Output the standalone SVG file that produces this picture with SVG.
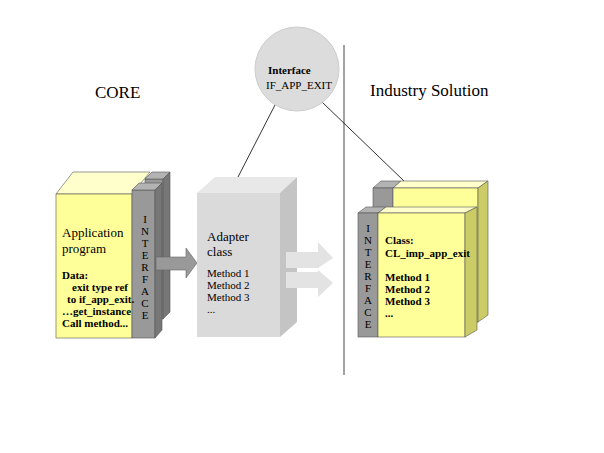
<svg xmlns="http://www.w3.org/2000/svg" width="604" height="453" viewBox="0 0 604 453" font-family="'Liberation Serif','Times New Roman',serif">
<style>
text{font-family:'Liberation Serif','Times New Roman',serif;fill:#000}
.b{font-weight:bold;font-size:11px}
.n{font-size:11px}
.h{font-size:13px}
.t{font-size:17px}
.y{fill:#ffff99;stroke:#555;stroke-width:0.6}
.yt{fill:#ffffcc;stroke:#555;stroke-width:0.6}
.ys{fill:#cccc66;stroke:#555;stroke-width:0.6}
.g{fill:#999;stroke:#555;stroke-width:0.6}
.gt{fill:#b3b3b3;stroke:#555;stroke-width:0.6}
.gs{fill:#777;stroke:#555;stroke-width:0.6}
.v{font-size:11px;text-anchor:middle}
</style>
<rect width="604" height="453" fill="#fff"/>
<g id="connectors" stroke="#000" stroke-width="0.8" fill="none">
<line x1="344" y1="45" x2="344" y2="375" stroke="#666" stroke-width="1.2"/>
<line x1="275" y1="105" x2="238" y2="177"/>
<line x1="322" y1="102" x2="432" y2="208"/>
</g>
<text class="t" x="95" y="98">CORE</text>
<text class="t" x="370" y="96">Industry Solution</text>
<g id="iface">
<circle cx="297" cy="69" r="42" fill="#dcdcdc" stroke="#ccc"/>
<text class="b" x="268" y="74">Interface</text>
<text class="n" x="266" y="89">IF_APP_EXIT</text>
</g>
<g id="app">
<rect class="g" x="145" y="179" width="18" height="140"/>
<polygon class="gt" points="145,179 152,172 170,172 163,179"/>
<polygon class="gs" points="163,179 170,172 170,312 163,319"/>
<polygon class="yt" points="56,194 73,172 150,172 132,194"/>
<rect class="y" x="56" y="194" width="76" height="144"/>
<rect class="g" x="132" y="190" width="23" height="148"/>
<polygon class="gt" points="132,190 139,183 162,183 155,190"/>
<polygon class="gs" points="155,190 162,183 162,330 155,338"/>
<text class="h" x="62" y="237">Application</text>
<text class="h" x="62" y="253">program</text>
<text class="b" x="62" y="279">Data:</text>
<text class="b" x="72" y="291">exit type ref</text>
<text class="b" x="67" y="303">to if_app_exit.</text>
<text class="b" x="62" y="315">…get_instance</text>
<text class="b" x="62" y="327">Call method...</text>
<g class="v"><text x="145" y="223">I</text><text x="145" y="235">N</text><text x="145" y="247">T</text><text x="145" y="259">E</text><text x="145" y="271">R</text><text x="145" y="283">F</text><text x="145" y="295">A</text><text x="145" y="307">C</text><text x="145" y="319">E</text></g>
</g>
<polygon id="arrow1" points="156,257 186,257 186,248 197,263 186,278 186,270 156,270" fill="#999" stroke="#666" stroke-width="0.6"/>
<g id="adapter">
<polygon points="197,193 215,177 297,177 280,193" fill="#e8e8e8"/>
<polygon points="280,193 297,177 297,322 280,337" fill="#c4c4c4"/>
<rect x="197" y="193" width="83" height="144" fill="#dadada"/>
<text class="h" x="207" y="241">Adapter</text>
<text class="h" x="207" y="256">class</text>
<text class="n" x="207" y="277">Method 1</text>
<text class="n" x="207" y="289">Method 2</text>
<text class="n" x="207" y="301">Method 3</text>
<text class="n" x="207" y="313" fill="#666">...</text>
</g>
<g id="arrows2" fill="#e3e3e3">
<polygon points="286,252 318,252 318,242 333,258 318,268 286,268"/>
<polygon points="286,272 318,272 318,270 333,283 318,297 318,288 286,288"/>
</g>
<g id="impl">
<polygon class="gt" points="373,188 381,181 401,181 393,188"/>
<rect class="g" x="373" y="188" width="20" height="40"/>
<polygon class="yt" points="393,188 401,181 488,181 478,188"/>
<rect class="y" x="393" y="188" width="85" height="134"/>
<polygon class="ys" points="478,188 488,181 488,315 478,322"/>
<polygon class="gt" points="358,213 366,207 386,207 378,213"/>
<rect class="g" x="358" y="213" width="20" height="124"/>
<polygon class="yt" points="378,213 386,207 477,207 465,213"/>
<rect class="y" x="378" y="213" width="87" height="124"/>
<polygon class="ys" points="465,213 477,207 477,330 465,337"/>
<text class="b" x="385" y="244">Class:</text>
<text class="b" x="385" y="257">CL_imp_app_exit</text>
<text class="b" x="385" y="281">Method 1</text>
<text class="b" x="385" y="293">Method 2</text>
<text class="b" x="385" y="305">Method 3</text>
<text class="b" x="385" y="317">...</text>
<g class="v"><text x="368" y="232">I</text><text x="368" y="244">N</text><text x="368" y="256">T</text><text x="368" y="268">E</text><text x="368" y="280">R</text><text x="368" y="292">F</text><text x="368" y="304">A</text><text x="368" y="316">C</text><text x="368" y="328">E</text></g>
</g>
</svg>
